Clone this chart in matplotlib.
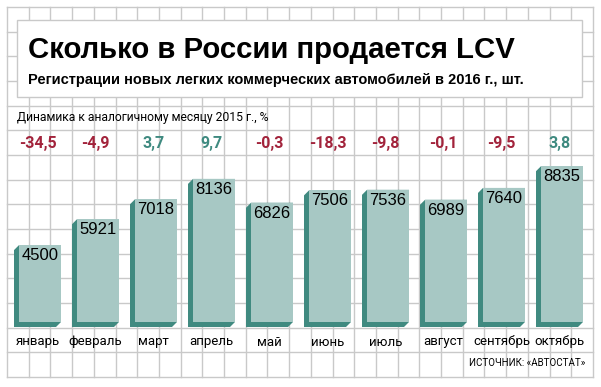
import numpy as np
import matplotlib
matplotlib.use("Agg")
import matplotlib.pyplot as plt
from matplotlib.patches import Rectangle, Polygon

months = ["январь", "февраль", "март", "апрель", "май", "июнь",
          "июль", "август", "сентябрь", "октябрь"]
sales = [4500, 5921, 7018, 8136, 6826, 7506, 7536, 6989, 7640, 8835]
change = [-34.5, -4.9, 3.7, 9.7, -0.3, -18.3, -9.8, -0.1, -9.5, 3.8]

title = "Сколько в России продается LCV"
subtitle = "Регистрации новых легких коммерческих автомобилей в 2016 г., шт."
note = "Динамика к аналогичному месяцу 2015 г., %"
source = "ИСТОЧНИК: «АВТОСТАТ»"

FRONT = "#a7c8c4"
SIDE = "#408a80"
RED = "#a2233b"
TEAL = "#3f8a80"
GRID = "#c9c9c9"
NARROW = "Roboto"

W, H = 601, 387
fig = plt.figure(figsize=(W / 100, H / 100), dpi=100)

# background layer in pixel coordinates
bg = fig.add_axes([0, 0, 1, 1])
bg.set_xlim(0, W)
bg.set_ylim(H, 0)
bg.axis("off")
for x in np.linspace(7, 593, 28):
    bg.plot([x, x], [7, 377], color=GRID, lw=1)
for y in np.linspace(7, 377, 16):
    bg.plot([7, 593], [y, y], color=GRID, lw=1)
bg.add_patch(Rectangle((17, 20), 565, 77, facecolor="white", edgecolor=GRID, lw=1, zorder=3))

bg.text(28, 50, title, fontsize=21.2, fontweight="bold", family="Liberation Sans",
        va="center", ha="left", zorder=4)
bg.text(28, 80, subtitle, fontsize=10.5, fontweight="bold", family="Liberation Sans",
        va="center", ha="left", zorder=4)
bg.text(17, 117, note, fontsize=8.7, family=NARROW,
        va="center", ha="left", zorder=4)
bg.text(585, 363, source, fontsize=7, family=NARROW,
        va="center", ha="right", zorder=4)

# bars axes: baseline at y=327 px, 0.0182 px per unit
px_unit = 0.0182
ymax = 10000
left_px, right_px = 8.5, 588.5
base_px = 327
ax = fig.add_axes([left_px / W, (H - base_px) / H,
                   (right_px - left_px) / W, ymax * px_unit / H])
ax.set_xlim(-0.5, len(months) - 0.5)
ax.set_ylim(0, ymax)
ax.axis("off")
ax.patch.set_alpha(0)

slot = (right_px - left_px) / len(months)
bw = 47 / slot
dx = 5 / slot
dy = 5 / px_unit
for i, v in enumerate(sales):
    x0 = i - bw / 2
    x1 = i + bw / 2
    ax.add_patch(Polygon([(x0, v - dy), (x0 + dx, v), (x1, v), (x1, dy),
                          (x1 - dx, 0), (x0, 0)], closed=True,
                         facecolor=SIDE, edgecolor="none"))
    ax.add_patch(Rectangle((x0 + dx, dy), x1 - x0 - dx, v - dy,
                           facecolor=FRONT, edgecolor="none"))
    ax.text(i + dx / 2, v - 3 / px_unit, str(v), fontsize=12,
            family="Liberation Sans", ha="center", va="top")
    ax.text(i, -15 / px_unit, months[i], fontsize=9.5,
            family=NARROW, ha="center", va="center", clip_on=False)
    lab = f"{change[i]:.1f}".replace(".", ",")
    ax.text(i, (base_px - 143) / px_unit, lab, fontsize=11.5,
            fontweight="bold", family=NARROW,
            color=RED if change[i] < 0 else TEAL, ha="center", va="center",
            clip_on=False)

fig.savefig("out.png", dpi=100)
